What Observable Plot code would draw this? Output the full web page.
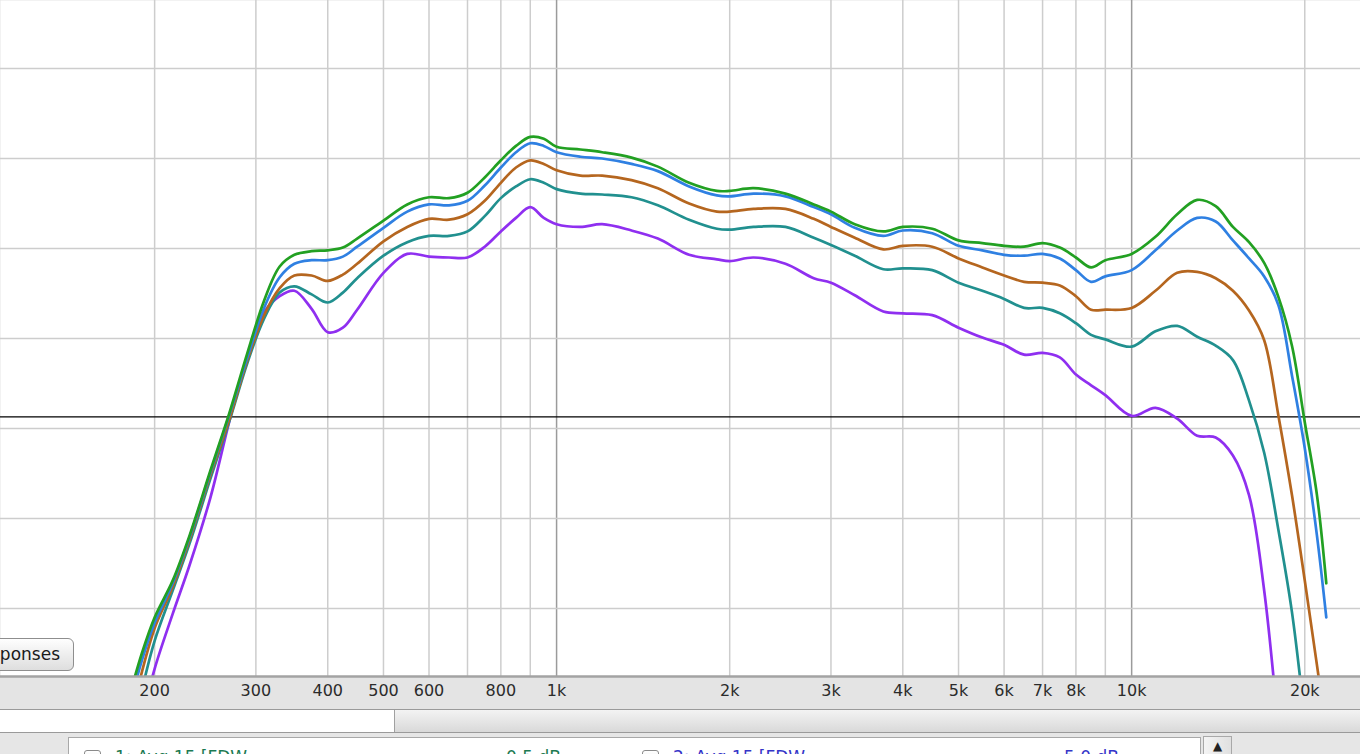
<!DOCTYPE html>
<html><head><meta charset="utf-8">
<script src="https://cdn.jsdelivr.net/npm/d3@7"></script>
<script src="https://cdn.jsdelivr.net/npm/@observablehq/plot@0.6"></script>
<style>
html,body{margin:0;padding:0;width:1360px;height:754px;overflow:hidden;background:#e6e6e6;font-family:"DejaVu Sans",sans-serif;}
#wrap{position:relative;width:1360px;height:754px;overflow:hidden;}
#chart svg{display:block;}
#btn{position:absolute;left:-14px;top:638px;width:88px;height:33px;box-sizing:border-box;border:1px solid #8e8e8e;border-radius:6px;background:linear-gradient(#fefefe,#dedede);font-size:17px;line-height:31px;color:#1a1a1a;text-align:right;padding-right:13px;}
#scroll{position:absolute;left:0;top:709px;width:1360px;height:24px;border-top:1px solid #9a9a9a;border-bottom:1px solid #9a9a9a;box-sizing:border-box;background:linear-gradient(#f3f3f3,#d9d9d9);}
#thumb{position:absolute;left:0;top:0;width:394px;height:22px;background:#fff;border-right:1px solid #a0a0a0;}
#panel{position:absolute;left:0;top:733px;width:1360px;height:30px;background:#e6e6e6;}
#list{position:absolute;left:68px;top:4px;width:1133px;height:40px;box-sizing:border-box;border:1px solid #a8a8a8;background:#fff;}
.cb{position:absolute;top:12px;width:17px;height:17px;border:1px solid #8a8a8a;border-radius:3px;background:linear-gradient(#fff,#e8e8e8);box-sizing:border-box;}
.t{position:absolute;top:9px;font-size:17px;white-space:nowrap;}
#sb{position:absolute;left:1203px;top:3px;width:29px;height:40px;box-sizing:border-box;border:1px solid #a8a8a8;background:linear-gradient(90deg,#f4f4f4,#e0e0e0);font-size:12px;color:#222;text-align:center;line-height:18px;}
</style></head>
<body><div id="wrap"><div id="chart"></div>
<div id="btn">ponses</div>
<div id="scroll"><div id="thumb"></div></div>
<div id="panel"><div id="list">
<div class="cb" style="left:15px"></div><div class="t" style="left:46px;color:#1d7a52">1: Avg 15 [FDW</div><div class="t" style="left:437px;color:#1d7a52">0.5 dB</div>
<div class="cb" style="left:573px"></div><div class="t" style="left:604px;color:#3535c8">2: Avg 15 [FDW</div><div class="t" style="left:995px;color:#3535c8">5.0 dB</div>
</div><div id="sb">▲</div></div>
</div>
<script>
const freqs = [180,190,200,215,230,250,270,290,310,330,350,375,400,425,450,500,550,600,650,700,750,800,850,900,950,1000,1100,1200,1350,1500,1700,1900,2000,2200,2500,2800,3000,3300,3700,4000,4500,5000,5500,6000,6500,7000,7500,8000,8500,9000,10000,11000,12000,13000,14000,15000,16000,17000,18000,19000,20000,21000,21800];

const greenDb = [29.8,35.0,39.0,43.1,48.1,55.3,61.8,68.4,74.2,78.0,79.3,79.7,79.8,80.1,81.1,83.1,84.9,85.7,85.6,86.2,87.9,89.8,91.4,92.4,92.2,91.3,91.0,90.7,90.1,89.1,87.3,86.4,86.4,86.7,86.1,84.9,84.1,82.7,81.9,82.4,82.2,80.9,80.6,80.3,80.2,80.6,80.1,79.0,77.9,78.7,79.4,81.3,83.8,85.4,84.7,82.4,80.7,78.4,74.6,69.2,60.7,52.6,42.8];
const blueDb = [28.7,34.2,38.4,42.8,47.9,55.1,61.6,67.9,73.4,76.8,78.3,78.7,78.7,79.1,80.2,82.3,84.1,84.9,84.8,85.3,87.0,89.0,90.7,91.7,91.4,90.7,90.2,90.0,89.4,88.6,86.9,85.9,85.8,86.1,85.8,84.6,83.8,82.3,81.4,82.0,81.7,80.3,79.8,79.3,79.2,79.4,78.9,77.6,76.3,76.9,77.6,79.8,82.0,83.4,83.0,80.9,78.9,76.9,73.7,65.9,57.8,48.1,39.0];
const brownDb = [26.4,32.9,37.8,42.4,47.6,54.8,61.1,67.6,72.6,75.6,77.0,77.0,76.4,77.1,78.3,80.8,82.4,83.3,83.2,83.8,85.3,87.3,89.0,89.8,89.4,88.7,88.1,88.1,87.6,86.7,85.0,84.1,84.1,84.4,84.4,83.3,82.4,81.2,79.9,80.3,80.2,78.9,77.9,77.0,76.3,76.2,75.9,74.7,73.2,73.2,73.4,75.3,77.3,77.4,76.7,75.3,73.1,69.8,61.4,52.6,43.1,33.7,26.4];
const tealDb = [24.2,30.9,36.4,42.0,47.2,54.4,60.9,67.3,72.2,75.1,75.8,74.9,74.0,75.1,76.7,79.2,80.7,81.4,81.4,81.9,83.6,85.6,86.9,87.7,87.3,86.6,86.1,86.0,85.7,84.8,83.2,82.2,82.1,82.4,82.4,81.2,80.4,79.2,77.7,77.8,77.6,76.2,75.3,74.4,73.4,73.4,72.8,71.7,70.4,69.9,69.1,70.8,71.4,70.2,69.2,67.6,63.1,57.3,48.7,39.6,27.6,null,null];
const purpleDb = [20.9,27.6,33.3,39.4,44.8,52.3,60.9,68.1,72.9,74.7,75.3,73.3,70.7,71.2,73.2,77.3,79.4,79.1,79.0,79.0,80.2,81.9,83.4,84.6,83.4,82.7,82.4,82.7,82.0,81.1,79.3,78.8,78.6,79.0,78.3,76.7,76.2,74.8,73.0,72.8,72.6,71.2,70.1,69.3,68.2,68.4,67.9,66.0,64.8,63.7,61.4,62.3,61.1,59.2,59.0,57.0,52.6,42.0,26.4,null,null,null,null];

const seriesNames = ["green","blue","brown","teal","purple"];
const seriesColors = ["#22a022","#2f80e2","#b5661f","#21908f","#8f2ff0"];
const seriesValues = [greenDb, blueDb, brownDb, tealDb, purpleDb];

const tickFreqs = [200,300,400,500,600,800,1000,2000,3000,4000,5000,6000,7000,8000,10000,20000];
const tickLabels = ["200","300","400","500","600","800","1k","2k","3k","4k","5k","6k","7k","8k","10k","20k"];
const gridFreqs = [200,300,400,500,600,700,800,900,2000,3000,4000,5000,6000,7000,8000,9000,20000];
const decadeFreqs = [1000,10000];
const dbGrid = [40,50,60,70,80,90,100];
const refLevel = [61.3];
const yDomain = [32.44, 107.56];
const xDomain = [107.9, 25000];

const rows = [];
seriesNames.forEach((name, s) => {
  freqs.forEach((f, i) => {
    const v = seriesValues[s][i];
    if (v !== null) rows.push({series: name, f, db: v});
  });
});
const ticks = tickFreqs.map((f, i) => ({f, label: tickLabels[i]}));

const drawOrder = ["purple","teal","brown","blue","green"];
const lineMarks = drawOrder.map(name => Plot.line(rows.filter(r => r.series === name), {
  x: "f", y: "db", stroke: seriesColors[seriesNames.indexOf(name)],
  strokeWidth: 2.7, curve: "catmull-rom", clip: true
}));

const chart = Plot.plot({
  width: 1360, height: 709,
  marginTop: 0, marginRight: 0, marginBottom: 33, marginLeft: 0,
  x: {type: "log", domain: xDomain, axis: null},
  y: {domain: yDomain, axis: null},
  style: {background: "#e4e4e4", fontFamily: "DejaVu Sans, sans-serif"},
  marks: [
    Plot.frame({fill: "#ffffff", stroke: null}),
    Plot.ruleX(gridFreqs, {stroke: "#cdcdcd", strokeWidth: 1.5}),
    Plot.ruleX(decadeFreqs, {stroke: "#9b9b9b", strokeWidth: 1.5}),
    Plot.ruleY(dbGrid, {stroke: "#cdcdcd", strokeWidth: 1.5}),
    Plot.ruleY(refLevel, {stroke: "#000000", strokeWidth: 1.3}),
    ...lineMarks,
    Plot.ruleY([yDomain[0]], {stroke: "#a3a3a3", strokeWidth: 2.5}),
    Plot.text(ticks, {x: "f", frameAnchor: "bottom", dy: 19, text: "label", fontSize: 16, fill: "#2b2b2b"})
  ]
});
document.getElementById("chart").appendChild(chart);
</script>
</body></html>
